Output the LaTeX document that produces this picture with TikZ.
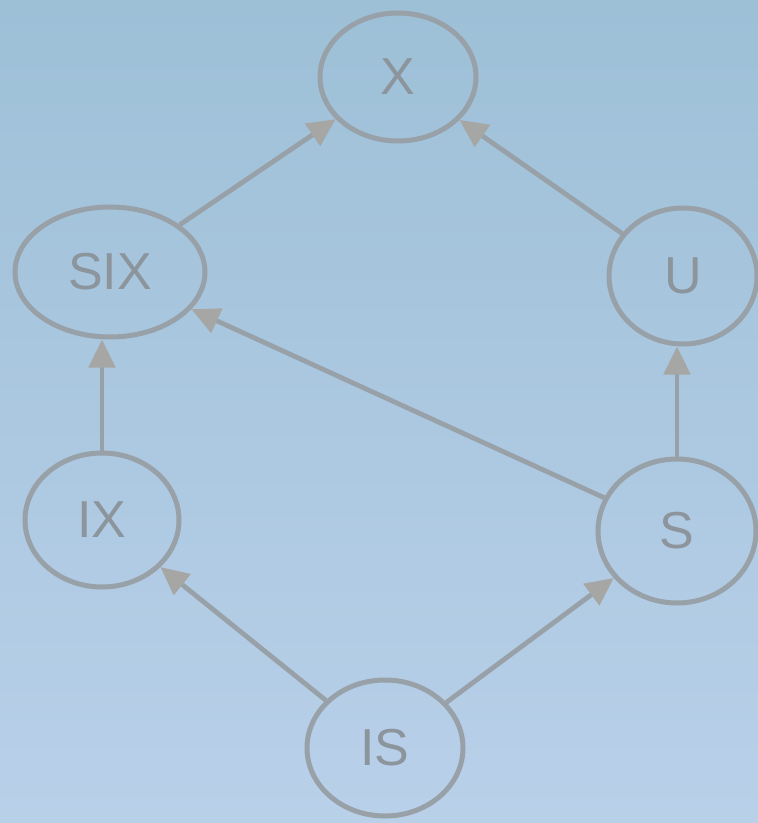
\documentclass[tikz,border=0pt]{standalone}
\usepackage{fontspec}
\setmainfont{Liberation Sans}
\usepackage{tikz}
\usetikzlibrary{arrows.meta,positioning,calc,shapes.geometric}
\definecolor{bgtop}{RGB}{157,192,215}
\definecolor{bgbot}{RGB}{185,208,233}
\definecolor{ringgray}{RGB}{152,160,168}
\definecolor{tipgray}{RGB}{166,166,164}
\definecolor{textgray}{RGB}{140,148,156}

\begin{document}
\begin{tikzpicture}[x=0.5pt,y=-0.5pt,
  word/.style={ellipse,draw=ringgray,line width=2.5pt,inner sep=0pt,
    text=textgray,font=\fontsize{26}{30}\selectfont},
  link/.style={draw=ringgray,line width=2.4pt,
    -{Triangle[length=14pt,width=13pt,color=tipgray]}}]
  % hintergrund
  \shade[top color=bgtop,bottom color=bgbot] (0,0) rectangle (758,823);
  \useasboundingbox (0,0) rectangle (758,823);
  % knoten
  \node[word,minimum width=78pt,minimum height=64pt] (x) at (398,77) {X};
  \node[word,minimum width=95pt,minimum height=65pt] (six) at (110,272) {SIX};
  \node[word,minimum width=74pt,minimum height=68pt] (u) at (683,276) {U};
  \node[word,minimum width=77pt,minimum height=67pt] (ix) at (102,520) {IX};
  \node[word,minimum width=79pt,minimum height=72pt] (s) at (677,531) {S};
  \node[word,minimum width=78pt,minimum height=68pt] (is) at (385,748) {IS};
  % kanten
  \draw[link] (six) -- (x);
  \draw[link] (u) -- (x);
  \draw[link] (s) -- (six);
  \draw[link] (ix.north) -- (ix.north |- six.south);
  \draw[link] (s.north) -- (s.north |- u.south);
  \draw[link] (is) -- (ix);
  \draw[link] (is) -- (s);
\end{tikzpicture}
\end{document}
